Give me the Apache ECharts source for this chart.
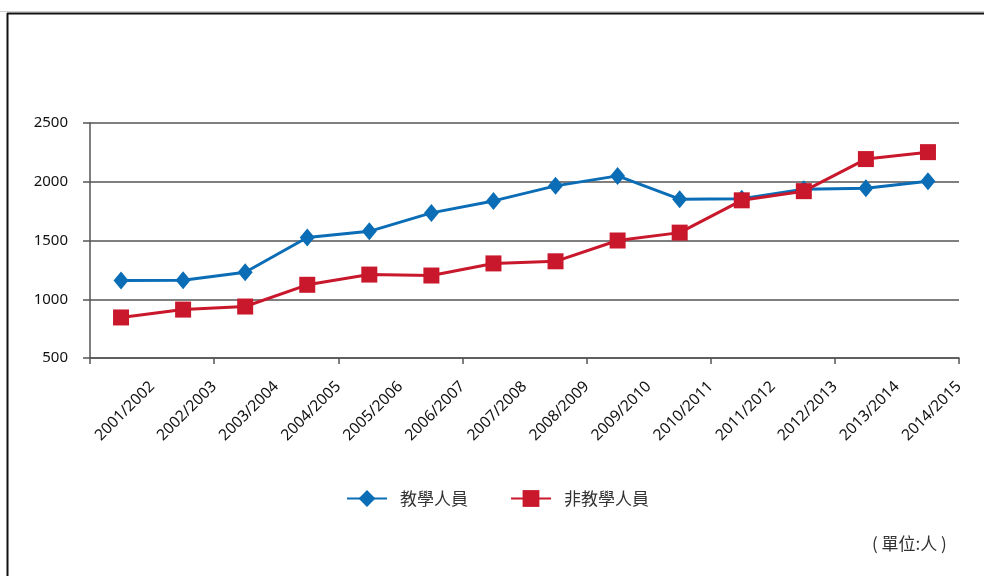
<!DOCTYPE html>
<html>
<head>
<meta charset="utf-8">
<script src="https://cdn.jsdelivr.net/npm/echarts@6/dist/echarts.min.js"></script>
<style>
  html, body { margin: 0; padding: 0; background: #fff; }
  #chart { width: 984px; height: 576px; }
</style>
</head>
<body>
<div id="chart"></div>
<script>
// Academic years shown along the horizontal axis
const years = [
  '2001/2002', '2002/2003', '2003/2004', '2004/2005', '2005/2006',
  '2006/2007', '2007/2008', '2008/2009', '2009/2010', '2010/2011',
  '2011/2012', '2012/2013', '2013/2014', '2014/2015'
];

// Headcount per year
const teachingStaff = [1160, 1162, 1230, 1525, 1578, 1735, 1837, 1965, 2050, 1852, 1855, 1937, 1945, 2005];
const nonTeachingStaff = [845, 912, 938, 1123, 1210, 1202, 1305, 1323, 1500, 1567, 1842, 1920, 2193, 2252];

const seriesNames = ['教學人員', '非教學人員'];
const unitLabel = '( 單位:人 )';

// Value axis range
const yMin = 500, yMax = 2500, yStep = 500;

const BLUE = '#0a6db6';
const RED = '#c9172c';
const AXIS = '#555555';
const FONT = '"Noto Sans", "Noto Sans CJK TC", sans-serif';
const CJK = '"Noto Sans CJK TC", sans-serif';

const chart = echarts.init(document.getElementById('chart'), null, { renderer: 'canvas' });

chart.setOption({
  animation: false,
  backgroundColor: '#ffffff',
  grid: { left: 90, right: 25, top: 123, bottom: 218, containLabel: false },
  legend: {
    data: seriesNames,
    left: 341,
    top: 485,
    itemWidth: 40,
    itemHeight: 21,
    itemGap: 42,
    textStyle: { fontFamily: CJK, fontSize: 17, color: '#333', padding: [0, 0, 0, 8] }
  },
  xAxis: [
    {
      type: 'category',
      data: years,
      boundaryGap: true,
      axisLine: { show: true, lineStyle: { color: AXIS, width: 1.5 } },
      axisTick: { show: true, length: 6, lineStyle: { color: AXIS, width: 1.5 } },
      axisLabel: { show: false },
      splitLine: { show: false }
    },
    {
      // Label-only axis: year names sit at the right-hand tick of each category
      type: 'category',
      data: [''].concat(years),
      boundaryGap: false,
      position: 'bottom',
      axisLine: { show: false },
      axisTick: { show: false },
      splitLine: { show: false },
      axisLabel: {
        show: true,
        interval: 0,
        rotate: 45,
        margin: 26,
        fontFamily: FONT,
        fontSize: 15.5,
        color: '#111'
      }
    }
  ],
  yAxis: {
    type: 'value',
    min: yMin,
    max: yMax,
    interval: yStep,
    axisLine: { show: true, lineStyle: { color: AXIS, width: 1.5 } },
    axisTick: { show: true, length: 7, lineStyle: { color: AXIS, width: 1.5 } },
    axisLabel: {
      margin: 22,
      fontFamily: FONT,
      fontSize: 15,
      color: '#111',
      formatter: (v) => String(v)
    },
    splitLine: { show: true, lineStyle: { color: AXIS, width: 1.5 } }
  },
  series: [
    {
      name: seriesNames[0],
      type: 'line',
      xAxisIndex: 0,
      data: teachingStaff,
      symbol: 'diamond',
      symbolSize: [15, 18],
      showAllSymbol: true,
      lineStyle: { color: BLUE, width: 3 },
      itemStyle: { color: BLUE },
      z: 3
    },
    {
      name: seriesNames[1],
      type: 'line',
      xAxisIndex: 0,
      data: nonTeachingStaff,
      symbol: 'rect',
      symbolSize: 16,
      showAllSymbol: true,
      lineStyle: { color: RED, width: 3 },
      itemStyle: { color: RED },
      z: 4
    }
  ],
  graphic: [
    // page frame: left and top rules
    { type: 'line', shape: { x1: 0, y1: 11.5, x2: 984, y2: 11.5 }, style: { stroke: '#cfcfcf', lineWidth: 1 } },
    { type: 'line', shape: { x1: 7, y1: 13.5, x2: 984, y2: 13.5 }, style: { stroke: '#111', lineWidth: 2 } },
    { type: 'line', shape: { x1: 7.5, y1: 13, x2: 7.5, y2: 576 }, style: { stroke: '#111', lineWidth: 2 } },
    {
      type: 'text',
      left: 872,
      top: 535,
      style: { text: unitLabel, fontFamily: CJK, fontSize: 17, fill: '#333' }
    }
  ]
});
</script>
</body>
</html>
